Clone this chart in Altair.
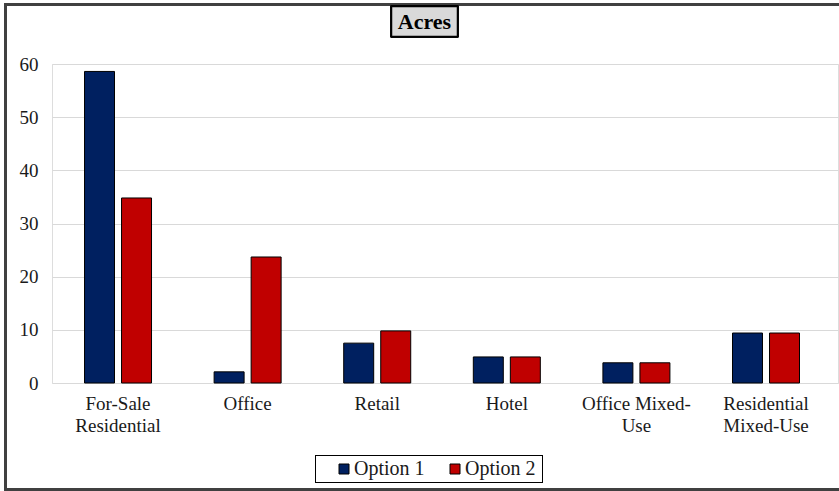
import altair as alt
import pandas as pd

# Land use categories (line breaks mark where the axis label wraps)
categories = [
    "For-Sale\nResidential",
    "Office",
    "Retail",
    "Hotel",
    "Office Mixed-\nUse",
    "Residential\nMixed-Use",
]
option_1 = [58.6, 2.1, 7.5, 4.9, 3.8, 9.4]
option_2 = [34.8, 23.7, 9.8, 4.9, 3.8, 9.4]
series = ["Option 1", "Option 2"]
colors = ["#002060", "#C00000"]

rows = []
for cat, a, b in zip(categories, option_1, option_2):
    rows.append({"category": cat, "series": series[0], "acres": a})
    rows.append({"category": cat, "series": series[1], "acres": b})
df = pd.DataFrame(rows)

FONT = "Liberation Serif"
W, H = 786, 319

bars = alt.Chart(df).mark_bar(stroke="black", strokeWidth=1).encode(
    x=alt.X(
        "category:N",
        sort=categories,
        title=None,
        scale=alt.Scale(paddingInner=0.483, paddingOuter=0.274, align=0.458),
        axis=alt.Axis(
            labelExpr="split(datum.label, '\\n')",
            labelAngle=0,
            labelFont=FONT,
            labelFontSize=19,
            labelColor="#1a1a1a",
            labelPadding=11,
            labelLineHeight=22,
            labelBaseline="top",
            domain=False,
            ticks=False,
            grid=False,
        ),
    ),
    xOffset=alt.XOffset(
        "series:N", sort=series, scale=alt.Scale(paddingInner=0.19, paddingOuter=0)
    ),
    y=alt.Y(
        "acres:Q",
        title=None,
        scale=alt.Scale(domain=[0, 60], nice=False),
        axis=alt.Axis(
            values=[0, 10, 20, 30, 40, 50, 60],
            labelFont=FONT,
            labelFontSize=19,
            labelColor="#1a1a1a",
            labelPadding=14,
            domain=False,
            ticks=False,
            gridColor="#d9d9d9",
            gridWidth=1,
        ),
    ),
    color=alt.Color(
        "series:N",
        sort=series,
        scale=alt.Scale(domain=series, range=colors),
        legend=alt.Legend(
            title=None,
            orient="none",
            direction="horizontal",
            legendX=282,
            legendY=395,
            labelFont=FONT,
            labelFontSize=20,
            labelColor="#1a1a1a",
            symbolType="square",
            symbolSize=100,
            symbolStrokeColor="black",
            symbolStrokeWidth=1,
            symbolOpacity=1,
            padding=0,
            columnPadding=20,
            labelOffset=0,
        ),
    ),
)

# Outer chart frame
frame = alt.Chart(df).mark_rect(
    fill=None, stroke="#404040", strokeWidth=2
).encode(
    x=alt.value(-46.5), x2=alt.value(W + 10),
    y=alt.value(-59.5), y2=alt.value(425.5),
)

# Box drawn around the legend
legend_box = alt.Chart(df).mark_rect(
    fill=None, stroke="black", strokeWidth=1
).encode(
    x=alt.value(263.5), x2=alt.value(490.5),
    y=alt.value(391.5), y2=alt.value(418.5),
)

# Boxed chart title
title_box = alt.Chart(df).mark_rect(
    fill="#d9d9d9", stroke="black", strokeWidth=1.5
).encode(
    x=alt.value(339.5), x2=alt.value(405.5),
    y=alt.value(-57.5), y2=alt.value(-27.5),
)
title_text = alt.Chart(pd.DataFrame({"t": ["Acres"]})).mark_text(
    font=FONT, fontSize=22, fontWeight="bold", color="black", baseline="middle"
).encode(
    x=alt.value(372.5), y=alt.value(-42), text="t:N"
)

chart = alt.layer(bars, legend_box, frame, title_box, title_text).properties(
    width=W, height=H,
    autosize=alt.AutoSizeParams(type="none"),
    padding={"left": 52, "top": 64, "right": 1, "bottom": 108},
).configure_view(stroke=None).configure(background="white")

chart.save("out.html", embed_options={"renderer": "svg", "actions": False})
